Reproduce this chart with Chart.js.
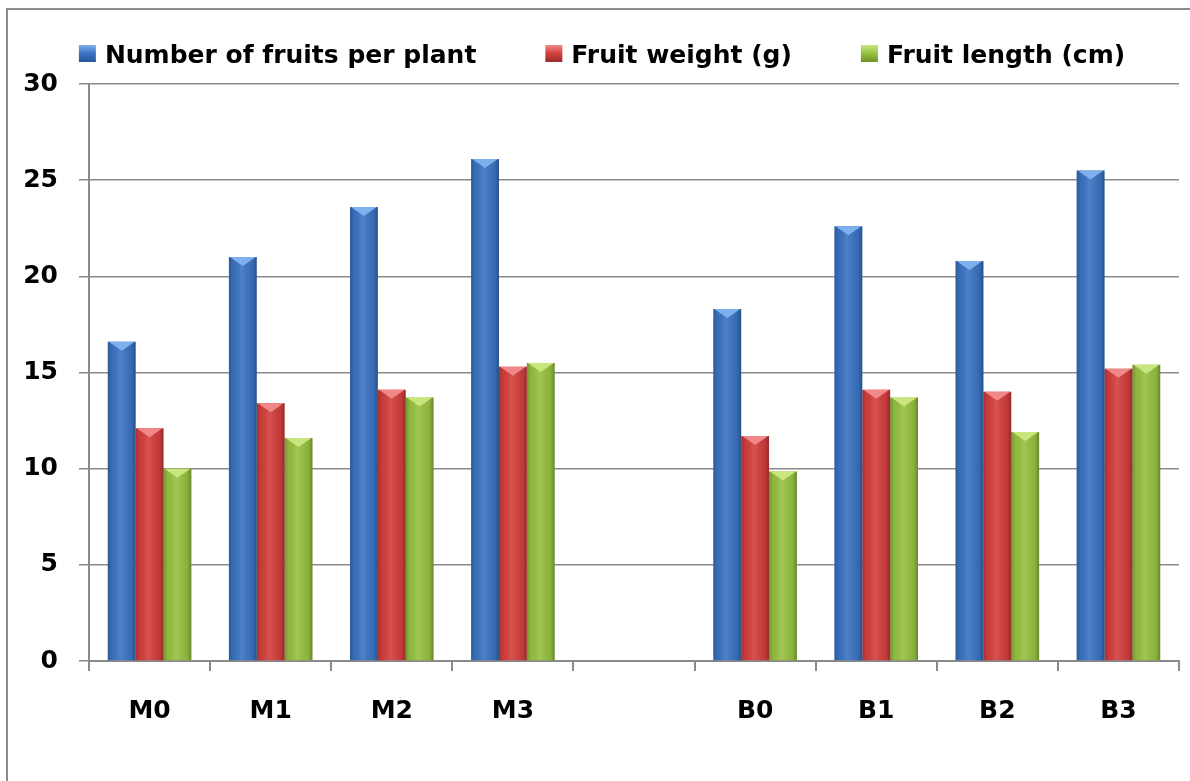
<!DOCTYPE html>
<html>
<head>
<meta charset="utf-8">
<script src="https://cdn.jsdelivr.net/npm/chart.js@4.4.0/dist/chart.umd.min.js"></script>
<style>
  html, body { margin: 0; padding: 0; background: #fff; }
  #wrap { position: relative; width: 1190px; height: 781px; overflow: hidden; }
  #frame { position: absolute; left: 6px; top: 8px; width: 1300px; height: 900px;
           border-left: 2px solid #8c8c8c; border-top: 2px solid #8c8c8c; }
  canvas { position: absolute; left: 0; top: 0; }
</style>
</head>
<body>
<div id="wrap">
  <div id="frame"></div>
  <canvas id="chart" width="1190" height="781"></canvas>
</div>
<script>
const categories = ['M0', 'M1', 'M2', 'M3', '', 'B0', 'B1', 'B2', 'B3'];
const fruitsPerPlant = [16.6, 21.0, 23.6, 26.1, null, 18.3, 22.6, 20.8, 25.5];
const fruitWeight = [12.1, 13.4, 14.1, 15.3, null, 11.7, 14.1, 14.0, 15.2];
const fruitLength = [10.0, 11.6, 13.7, 15.5, null, 9.85, 13.7, 11.9, 15.4];
const yTicks = [0, 5, 10, 15, 20, 25, 30];

const FONT = '"DejaVu Sans", sans-serif';
const GRID = '#8a8a8a';

// cylinder-ish shading and the light "V" on top of each bar
const barShade = {
  id: 'barShade',
  afterDatasetsDraw(chart) {
    const ctx = chart.ctx;
    ctx.save();
    chart.data.datasets.forEach((ds, i) => {
      const meta = chart.getDatasetMeta(i);
      meta.data.forEach((bar, j) => {
        if (ds.data[j] == null) return;
        const { x, y, width, base } = bar.getProps(['x', 'y', 'width', 'base'], true);
        const left = x - width / 2;
        const g = ctx.createLinearGradient(left, 0, left + width, 0);
        g.addColorStop(0, 'rgba(0,0,0,0.22)');
        g.addColorStop(0.15, 'rgba(0,0,0,0.05)');
        g.addColorStop(0.45, 'rgba(255,255,255,0.10)');
        g.addColorStop(0.85, 'rgba(0,0,0,0.08)');
        g.addColorStop(1, 'rgba(0,0,0,0.30)');
        ctx.fillStyle = g;
        ctx.fillRect(left, y, width, base - y);
        ctx.beginPath();
        ctx.moveTo(left + 1, y);
        ctx.lineTo(left + width - 1, y);
        ctx.lineTo(x, y + 9);
        ctx.closePath();
        ctx.fillStyle = ds.capColor;
        ctx.fill();
      });
    });
    ctx.restore();
  }
};

// legend drawn as one row across the top
const topLegend = {
  id: 'topLegend',
  afterDraw(chart) {
    const ctx = chart.ctx;
    const items = chart.data.datasets;
    const box = 17, textGap = 9, itemGap = 69;
    ctx.save();
    ctx.font = 'bold 25px ' + FONT;
    const widths = items.map(ds => box + textGap + ctx.measureText(ds.label).width);
    const total = widths.reduce((a, b) => a + b, 0) + itemGap * (items.length - 1);
    let x = 602 - total / 2;
    items.forEach((ds, i) => {
      const g = ctx.createLinearGradient(0, 45, 0, 62);
      g.addColorStop(0, ds.capColor);
      g.addColorStop(0.5, ds.backgroundColor);
      g.addColorStop(1, ds.borderColor);
      ctx.fillStyle = g;
      ctx.fillRect(x, 45, box, box);
      ctx.fillStyle = '#000';
      ctx.textBaseline = 'alphabetic';
      ctx.fillText(ds.label, x + box + textGap, 63);
      x += widths[i] + itemGap;
    });
    ctx.restore();
  }
};

new Chart(document.getElementById('chart'), {
  type: 'bar',
  data: {
    labels: categories,
    datasets: [
      { label: 'Number of fruits per plant', data: fruitsPerPlant,
        backgroundColor: '#3a73c2', borderColor: '#2a5698', capColor: '#7fb0ee' },
      { label: 'Fruit weight (g)', data: fruitWeight,
        backgroundColor: '#d33f3c', borderColor: '#9c2b2a', capColor: '#f0888a' },
      { label: 'Fruit length (cm)', data: fruitLength,
        backgroundColor: '#96c140', borderColor: '#6f9129', capColor: '#c9e67e' }
    ]
  },
  options: {
    responsive: false,
    animation: false,
    layout: { padding: { top: 84, right: 11, left: 0, bottom: 0 } },
    datasets: { bar: { categoryPercentage: 0.69, barPercentage: 1.0, borderWidth: 0 } },
    plugins: { legend: { display: false }, tooltip: { enabled: false } },
    scales: {
      x: {
        afterFit(s) { s.height = 120; },
        grid: { display: true, drawOnChartArea: false, drawTicks: true, tickLength: 10,
                color: GRID, lineWidth: 2 },
        border: { display: true, color: GRID, width: 2 },
        ticks: { color: '#000', padding: 25, font: { family: FONT, size: 25, weight: 'bold' } }
      },
      y: {
        min: 0, max: 30,
        afterFit(s) { s.width = 89; },
        afterBuildTicks(s) { s.ticks = yTicks.map(v => ({ value: v })); },
        grid: { color: GRID, lineWidth: 1.5, tickLength: 10 },
        border: { display: true, color: GRID, width: 2 },
        ticks: { color: '#000', padding: 21, font: { family: FONT, size: 25, weight: 'bold' } }
      }
    }
  },
  plugins: [barShade, topLegend]
});
</script>
</body>
</html>
